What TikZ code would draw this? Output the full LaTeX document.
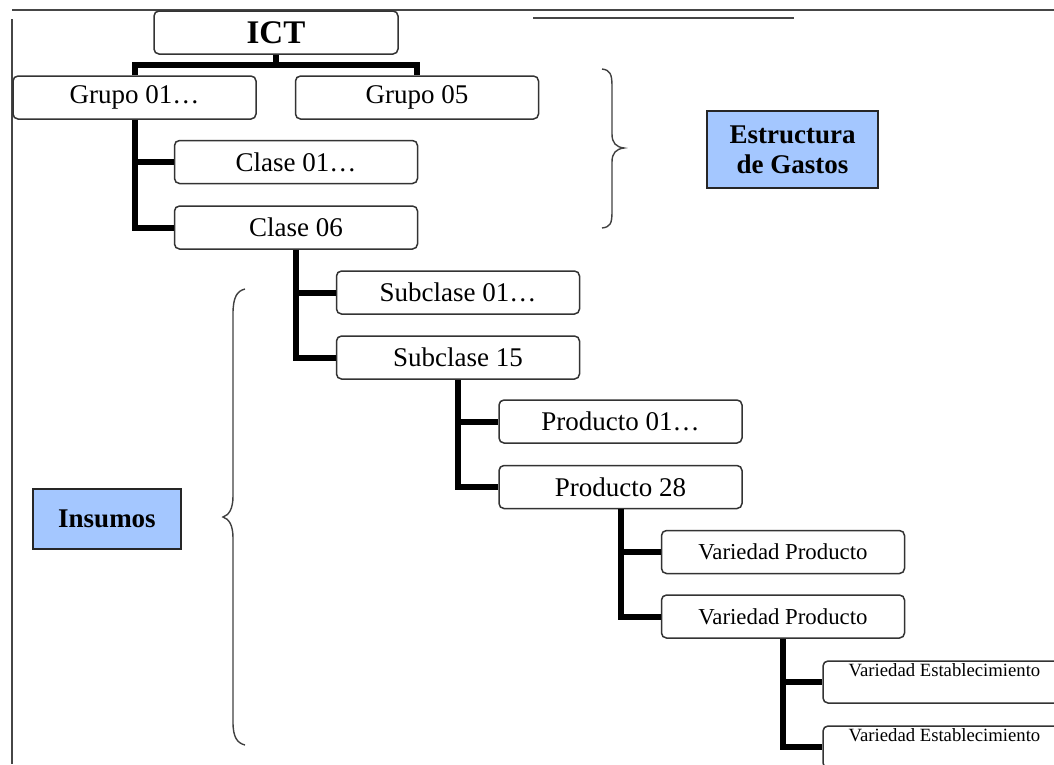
\documentclass[tikz,border=0pt]{standalone}
\usepackage{fontspec}
\setmainfont{Liberation Serif}
\definecolor{labelblue}{RGB}{164,199,255}
\definecolor{rulegray}{RGB}{70,70,70}
\begin{document}
\begin{tikzpicture}[x=1pt,y=-1pt,
  box/.style={draw=black!80, line width=1.5pt, rounded corners=5pt, fill=white,
    minimum width=243pt, minimum height=43pt, inner sep=0pt,
    font=\fontsize{27}{30}\selectfont},
  smallbox/.style={box, font=\fontsize{22.8}{25}\selectfont},
  tinybox/.style={box, minimum height=42pt},
  tag/.style={draw=black!85, line width=1.5pt, fill=labelblue, inner sep=0pt,
    align=center, font=\fontsize{27}{30}\selectfont\bfseries},
  conn/.style={line width=6pt, black},
  rule/.style={line width=2pt, rulegray},
  brace/.style={line width=1.4pt, black!75}]
\useasboundingbox (0,0) rectangle (1054,764);
\clip (0,0) rectangle (1054,764);

% page rules
\draw[rule] (12,10) -- (1054,10);
\draw[rule] (533,18) -- (794,18);
\draw[rule] (12,19) -- (12,764);

% hierarchy boxes
\node[box, minimum width=244pt, font=\fontsize{33}{36}\selectfont\bfseries] (ict) at (276,32.5) {ICT};
\node[box] (g01) at (134.5,97.5) {Grupo 01…};
\node[box] (g05) at (417,97.5) {Grupo 05};
\node[box] (c01) at (296,162) {Clase 01…};
\node[box] (c06) at (296,227.5) {Clase 06};
\node[box] (s01) at (458,292.5) {Subclase 01…};
\node[box] (s15) at (458,357.5) {Subclase 15};
\node[box] (p01) at (620.5,421.5) {Producto 01…};
\node[box] (p28) at (620.5,487) {Producto 28};
\node[smallbox] (vp1) at (783,552) {Variedad Producto};
\node[smallbox] (vp2) at (783,616.5) {Variedad Producto};
\node[tinybox, label={[anchor=north, inner sep=3.5pt, font=\fontsize{18.7}{21}\selectfont]north:Variedad Establecimiento}] (ve1) at (944.5,682) {};
\node[tinybox, label={[anchor=north, inner sep=3.5pt, font=\fontsize{18.7}{21}\selectfont]north:Variedad Establecimiento}] (ve2) at (944.5,747) {};

% connectors
\draw[conn] (ict.south) -- ++(0,10) coordinate (ictj);
\draw[conn] (g01.north) |- (ictj) -| (g05.north);
\draw[conn] (g01.south) |- (c06.west);
\draw[conn] (g01.south) |- (c01.west);
\draw[conn] (c06.south) |- (s15.west);
\draw[conn] (c06.south) |- (s01.west);
\draw[conn] (s15.south) |- (p28.west);
\draw[conn] (s15.south) |- (p01.west);
\draw[conn] (p28.south) |- (vp2.west);
\draw[conn] (p28.south) |- (vp1.west);
\draw[conn] (vp2.south) |- (ve2.west);
\draw[conn] (vp2.south) |- (ve1.west);

% group labels
\node[tag, minimum width=171pt, minimum height=77pt] (gastos) at (792.5,149.5) {Estructura\\de Gastos};
\node[tag, minimum width=148pt, minimum height=60pt] (insumos) at (107,519) {Insumos};

% braces
\draw[brace] (602,69) .. controls (610,70) and (612,74) .. (612,86)
  -- (612,134) .. controls (612,143) and (616,147) .. (624,148)
  .. controls (616,149) and (612,153) .. (612,162)
  -- (612,212) .. controls (612,224) and (610,227) .. (602,228);
\draw[brace] (245,289) .. controls (237,291) and (233,297) .. (233,314)
  -- (233,496) .. controls (233,509) and (229,515) .. (223,517)
  .. controls (229,519) and (233,525) .. (233,538)
  -- (233,722) .. controls (233,737) and (237,743) .. (245,745);
\end{tikzpicture}
\end{document}
